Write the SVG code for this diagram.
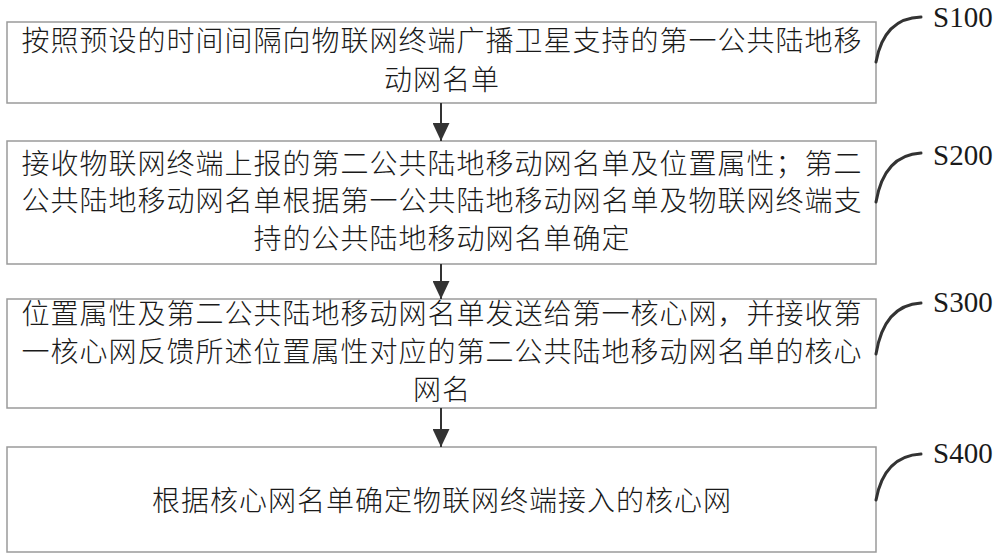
<svg xmlns="http://www.w3.org/2000/svg" width="1000" height="560" viewBox="0 0 1000 560">
  <defs>
    <style>
      .box { fill: #ffffff; stroke: #9a9a9a; stroke-width: 1.5; }
      .txt { font-family: "Noto Sans CJK SC", "Noto Sans", sans-serif; font-size: 28px; font-weight: 300; fill: #1a1a1a; text-anchor: middle; letter-spacing: 1px; }
      .lbl { font-family: "Liberation Serif", "Times New Roman", serif; font-size: 29px; fill: #1a1a1a; }
      .conn { stroke: #333333; stroke-width: 2; fill: none; }
      .lead { stroke: #333333; stroke-width: 3; fill: none; stroke-linecap: round; }
    </style>
    <marker id="arrow" viewBox="0 0 18 17" refX="18" refY="8.5" markerWidth="18" markerHeight="17" markerUnits="userSpaceOnUse" orient="auto">
      <path d="M0,0 L18,8.5 L0,17 Z" fill="#333333"/>
    </marker>
  </defs>
  <rect width="1000" height="560" fill="#ffffff"/>

  <g id="S100">
    <rect class="box" x="7" y="22" width="869" height="81"/>
    <text class="txt" x="442" y="51">按照预设的时间间隔向物联网终端广播卫星支持的第一公共陆地移</text>
    <text class="txt" x="442" y="89.5">动网名单</text>
    <path class="lead" d="M876,62 Q884,18 921,17"/>
    <text class="lbl" x="933" y="27">S100</text>
  </g>

  <g id="S200">
    <rect class="box" x="7" y="141" width="869" height="123"/>
    <text class="txt" x="442" y="174">接收物联网终端上报的第二公共陆地移动网名单及位置属性；第二</text>
    <text class="txt" x="442" y="211">公共陆地移动网名单根据第一公共陆地移动网名单及物联网终端支</text>
    <text class="txt" x="442" y="249">持的公共陆地移动网名单确定</text>
    <path class="lead" d="M876,202 Q884,155 921,153"/>
    <text class="lbl" x="933" y="165">S200</text>
  </g>

  <g id="S300">
    <rect class="box" x="7" y="299" width="869" height="109"/>
    <text class="txt" x="442" y="324">位置属性及第二公共陆地移动网名单发送给第一核心网，并接收第</text>
    <text class="txt" x="442" y="361.5">一核心网反馈所述位置属性对应的第二公共陆地移动网名单的核心</text>
    <text class="txt" x="442" y="399.5">网名</text>
    <path class="lead" d="M876,354 Q884,305 921,303"/>
    <text class="lbl" x="933" y="312">S300</text>
  </g>

  <g id="S400">
    <rect class="box" x="7" y="447" width="869" height="105"/>
    <text class="txt" x="442" y="510.5">根据核心网名单确定物联网终端接入的核心网</text>
    <path class="lead" d="M876,500 Q884,456 921,454"/>
    <text class="lbl" x="933" y="463">S400</text>
  </g>

  <g id="connectors">
    <line class="conn" x1="441" y1="103" x2="441" y2="141" marker-end="url(#arrow)"/>
    <line class="conn" x1="441" y1="264" x2="441" y2="299" marker-end="url(#arrow)"/>
    <line class="conn" x1="441" y1="408" x2="441" y2="447" marker-end="url(#arrow)"/>
  </g>
</svg>
